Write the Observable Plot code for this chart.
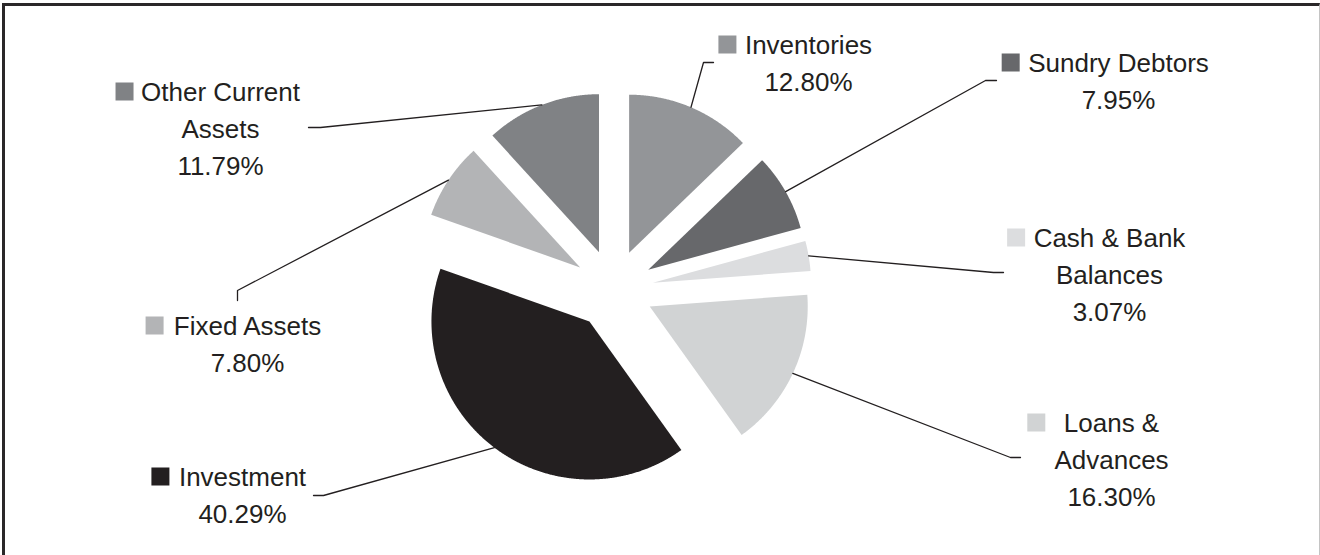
<!DOCTYPE html>
<html>
<head>
<meta charset="utf-8">
<script src="https://cdn.jsdelivr.net/npm/d3@7"></script>
<script src="https://cdn.jsdelivr.net/npm/@observablehq/plot@0.6"></script>
<style>
  html, body { margin: 0; padding: 0; background: #ffffff; overflow: hidden; }
  #wrap { position: relative; width: 1320px; height: 555px; overflow: hidden; }
  #wrap svg { position: absolute; left: 0; top: 0; }
  #box {
    position: absolute; left: 2px; top: 3px; width: 1318px; height: 600px;
    box-sizing: border-box;
    border-top: 3px solid #2a2829;
    border-left: 3px solid #2a2829;
    border-right: 1px solid #c4c4c4;
    pointer-events: none;
  }
</style>
</head>
<body>
<div id="wrap"><div id="box"></div></div>
<script>
// Composition of current assets (share of total, %), clockwise from 12 o'clock
const categories = [
  "Inventories", "Sundry Debtors", "Cash & Bank Balances", "Loans & Advances",
  "Investment", "Fixed Assets", "Other Current Assets"
];
const shares = [12.80, 7.95, 3.07, 16.30, 40.29, 7.80, 11.79];
// How each category name is broken over lines in its callout
const labelLines = [
  ["Inventories"], ["Sundry Debtors"], ["Cash & Bank", "Balances"], ["Loans &", "Advances"],
  ["Investment"], ["Fixed Assets"], ["Other Current", "Assets"]
];
const sliceColors = ["#939598", "#67686b", "#dcdddf", "#d1d3d4", "#231f20", "#b3b4b6", "#808285"];

// ---- layout (pixels; callout positions are offsets from the pie centre) ----
const W = 1320, H = 555;
const centre = {x: 613, y: 289};
const radius = 158;      // slice radius
const explode = 40;      // how far each slice is pulled out along its mid-angle
const fontSize = 26, lineStep = 37, keySize = 18;
const fontFamily = "'Liberation Sans', Arial, Helvetica, sans-serif";
const ink = "#231f20";
const callouts = [
  {cx: 195,  base: -236, elbow: [90, -227],   end: [100, -227], gap: 8},   // Inventories
  {cx: 505,  base: -218, elbow: [372, -209],  end: [383, -209], gap: 8},   // Sundry Debtors
  {cx: 496,  base: -43,  elbow: [380, -17],   end: [390, -17],  gap: 8},   // Cash & Bank
  {cx: 498,  base: 142,  elbow: [397, 168],   end: [407, 168],  gap: 18},  // Loans & Advances
  {cx: -371, base: 196,  elbow: [-290, 206],  end: [-300, 206], gap: 9},   // Investment
  {cx: -366, base: 45,   elbow: [-376, 1],    end: [-376, 11],  gap: 9},   // Fixed Assets
  {cx: -393, base: -189, elbow: [-293, -162], end: [-305, -162], gap: 7}   // Other Current Assets
];

// ---- geometry ----
const arcs = d3.pie().sort(null).startAngle(0).endAngle(2 * Math.PI)(shares);

// Each slice as a closed outline: its (exploded) apex followed by points along the rim
const slicePoints = [];
const leaderPoints = [];
arcs.forEach((a, i) => {
  const mid = (a.startAngle + a.endAngle) / 2;
  const ox = explode * Math.sin(mid), oy = -explode * Math.cos(mid);
  slicePoints.push({name: categories[i], x: ox, y: oy});
  const steps = Math.max(2, Math.ceil((a.endAngle - a.startAngle) / 0.005));
  for (let s = 0; s <= steps; ++s) {
    const t = a.startAngle + (a.endAngle - a.startAngle) * s / steps;
    slicePoints.push({name: categories[i], x: ox + radius * Math.sin(t), y: oy - radius * Math.cos(t)});
  }
  // leader line: from the rim at the slice's mid-angle to its callout
  const c = callouts[i];
  leaderPoints.push({name: categories[i], x: (explode + radius) * Math.sin(mid), y: -(explode + radius) * Math.cos(mid)});
  leaderPoints.push({name: categories[i], x: c.elbow[0], y: c.elbow[1]});
  leaderPoints.push({name: categories[i], x: c.end[0], y: c.end[1]});
});

// Callout text rows and their colour keys
const measure = document.createElement("canvas").getContext("2d");
measure.font = `${fontSize}px ${fontFamily}`;
const textRows = [];
const keys = [];
categories.forEach((name, i) => {
  const c = callouts[i];
  const lines = [...labelLines[i], shares[i].toFixed(2) + "%"];
  lines.forEach((t, j) => textRows.push({text: t, x: c.cx, y: c.base + j * lineStep}));
  const w = measure.measureText(labelLines[i][0]).width;
  const right = c.cx - w / 2 - c.gap;
  keys.push({name, x1: right - keySize, x2: right, y1: c.base + 0.5 - keySize, y2: c.base + 0.5});
});

const chart = Plot.plot({
  width: W,
  height: H,
  margin: 0,
  x: {domain: [-centre.x, W - centre.x], axis: null},
  y: {domain: [H - centre.y, -centre.y], axis: null},
  color: {domain: categories, range: sliceColors},
  style: {background: "transparent", overflow: "visible"},
  marks: [
    Plot.line(slicePoints, {x: "x", y: "y", z: "name", fill: "name", stroke: "none", curve: "linear-closed"}),
    Plot.line(leaderPoints, {x: "x", y: "y", z: "name", stroke: ink, strokeWidth: 1.3, curve: "linear"}),
    Plot.rect(keys, {x1: "x1", x2: "x2", y1: "y1", y2: "y2", fill: "name"}),
    Plot.text(textRows, {
      x: "x", y: "y", text: "text",
      textAnchor: "middle", lineAnchor: "bottom",
      fontSize, fontFamily, fill: ink
    })
  ]
});

document.getElementById("wrap").prepend(chart);
</script>
</body>
</html>
